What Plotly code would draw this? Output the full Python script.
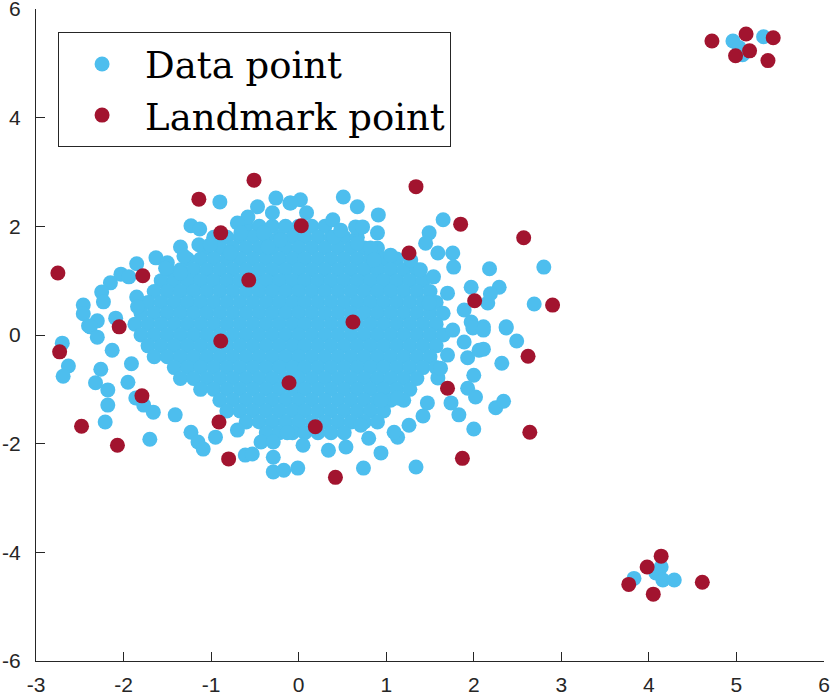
import plotly.graph_objects as go

# dense middle of the data cloud, one list of x positions per row
core_y = [2.0, 1.8, 1.6, 1.4, 1.2, 1.0, 0.8, 0.6, 0.4, 0.2,
          0.0, -0.2, -0.4, -0.6, -0.8, -1.0, -1.2, -1.4, -1.6, -1.8]
core_x = [
    [-0.6, -0.45, -0.3, -0.15, 0.0, 0.15, 0.3],
    [-0.97, -0.82, -0.67, -0.52, -0.37, -0.22, -0.07, 0.07, 0.22, 0.37, 0.52, 0.67],
    [-1.05, -0.9, -0.75, -0.6, -0.45, -0.3, -0.15, 0.0, 0.15, 0.3, 0.45, 0.6, 0.75, 0.9],
    [-1.27, -1.12, -0.97, -0.82, -0.67, -0.52, -0.37, -0.22, -0.07, 0.07, 0.22, 0.37,
     0.52, 0.67, 0.82, 0.97, 1.12],
    [-1.5, -1.35, -1.2, -1.05, -0.9, -0.75, -0.6, -0.45, -0.3, -0.15, 0.0, 0.15, 0.3,
     0.45, 0.6, 0.75, 0.9, 1.05, 1.2, 1.35],
    [-1.57, -1.42, -1.27, -1.12, -0.97, -0.82, -0.67, -0.52, -0.37, -0.22, -0.07, 0.07,
     0.22, 0.37, 0.52, 0.67, 0.82, 0.97, 1.12, 1.27, 1.42],
    [-1.65, -1.5, -1.35, -1.2, -1.05, -0.9, -0.75, -0.6, -0.45, -0.3, -0.15, 0.0, 0.15,
     0.3, 0.45, 0.6, 0.75, 0.9, 1.05, 1.2, 1.35, 1.5],
    [-1.72, -1.57, -1.42, -1.27, -1.12, -0.97, -0.82, -0.67, -0.52, -0.37, -0.22, -0.07,
     0.07, 0.22, 0.37, 0.52, 0.67, 0.82, 0.97, 1.12, 1.27, 1.42, 1.57],
    [-1.8, -1.65, -1.5, -1.35, -1.2, -1.05, -0.9, -0.75, -0.6, -0.45, -0.3, -0.15, 0.0,
     0.15, 0.3, 0.45, 0.6, 0.75, 0.9, 1.05, 1.2, 1.35, 1.5, 1.65],
    [-1.87, -1.72, -1.57, -1.42, -1.27, -1.12, -0.97, -0.82, -0.67, -0.52, -0.37, -0.22,
     -0.07, 0.07, 0.22, 0.37, 0.52, 0.67, 0.82, 0.97, 1.12, 1.27, 1.42, 1.57],
    [-1.8, -1.65, -1.5, -1.35, -1.2, -1.05, -0.9, -0.75, -0.6, -0.45, -0.3, -0.15, 0.0,
     0.15, 0.3, 0.45, 0.6, 0.75, 0.9, 1.05, 1.2, 1.35, 1.5, 1.65],
    [-1.72, -1.57, -1.42, -1.27, -1.12, -0.97, -0.82, -0.67, -0.52, -0.37, -0.22, -0.07,
     0.07, 0.22, 0.37, 0.52, 0.67, 0.82, 0.97, 1.12, 1.27, 1.42, 1.57],
    [-1.65, -1.5, -1.35, -1.2, -1.05, -0.9, -0.75, -0.6, -0.45, -0.3, -0.15, 0.0, 0.15,
     0.3, 0.45, 0.6, 0.75, 0.9, 1.05, 1.2, 1.35, 1.5],
    [-1.42, -1.27, -1.12, -0.97, -0.82, -0.67, -0.52, -0.37, -0.22, -0.07, 0.07, 0.22,
     0.37, 0.52, 0.67, 0.82, 0.97, 1.12, 1.27, 1.42, 1.57],
    [-1.35, -1.2, -1.05, -0.9, -0.75, -0.6, -0.45, -0.3, -0.15, 0.0, 0.15, 0.3, 0.45,
     0.6, 0.75, 0.9, 1.05, 1.2, 1.35],
    [-1.12, -0.97, -0.82, -0.67, -0.52, -0.37, -0.22, -0.07, 0.07, 0.22, 0.37, 0.52,
     0.67, 0.82, 0.97, 1.12, 1.27],
    [-0.9, -0.75, -0.6, -0.45, -0.3, -0.15, 0.0, 0.15, 0.3, 0.45, 0.6, 0.75, 0.9, 1.05, 1.2],
    [-0.82, -0.67, -0.52, -0.37, -0.22, -0.07, 0.07, 0.22, 0.37, 0.52, 0.67, 0.82, 0.97],
    [-0.6, -0.45, -0.3, -0.15, 0.0, 0.15, 0.3, 0.45, 0.6, 0.75],
    [-0.37, -0.22, -0.07, 0.07, 0.22, 0.37, 0.52],
]

# scattered data points around the edge of the cloud and the two far clusters
edge_x = [-0.90, -0.26, -0.10, -0.30, -0.47, -0.58, -0.70, -1.23, -1.13, -1.35,
          -1.31, -1.63, -1.50, -1.52, -1.85, -2.03, -1.94, -2.15, -2.25, -2.23,
          -2.46, -2.46, -2.30, -2.40, -2.09, -1.85, -1.84, -1.35, -1.14, -1.01,
          -0.40, -0.21, -0.66, -0.78, -0.35,
          -2.70, -2.63, -2.69, -2.26, -2.32, -2.18, -2.18, -2.21, -1.70, -1.86,
          -1.66, -1.77, -1.95, -1.91, -2.13, -1.41, -1.23, -1.15, -1.09, -0.95,
          -0.61, -0.53, -0.29, -0.29, -0.17, -0.01, -0.43, -0.29, -0.13, -0.70,
          -2.38, -2.30,
          0.02, 0.09, 0.51, 0.67, 0.91, 0.39, 0.65, 0.73, 0.90, 0.67,
          0.82, 1.65, 1.49, 1.45, 1.59, 1.76, 1.77, 2.18, 2.80, 1.97,
          2.29, 2.19, 2.69, 2.16, 1.49, 1.70, 2.11, 2.37, 1.97, 1.89,
          1.54, 1.39, 1.28, 1.05, 0.86, 0.40, 0.48, -0.09,
          1.76, 1.89, 1.99, 2.11, 2.37, 2.49, 2.06, 2.11, 1.93, 2.00,
          2.32, 1.93, 2.02, 1.74, 1.83, 2.25, 2.34, 2.00, 1.34, 0.94,
          0.74, 0.54, 0.05, 0.34, 0.80, 1.13, 1.26, 1.42, 1.47, 1.59,
          1.62, 1.70, 1.13, 0.94, 0.71, 0.90, 1.09,
          4.96, 5.07, 5.31, 5.03,
          3.83, 4.14, 4.08, 4.16, 4.29]
edge_y = [2.45, 2.52, 2.43, 2.25, 2.36, 2.17, 2.06, 2.01, 1.95, 1.62,
          1.45, 1.42, 1.33, 1.23, 1.31, 1.12, 1.07, 0.96, 0.79, 0.61,
          0.55, 0.39, 0.26, 0.17, 0.31, 0.70, 0.52, 1.14, 1.66, 1.66,
          1.88, 1.75, 1.88, 1.51, 1.62,
          -0.15, -0.57, -0.76, -0.63, -0.88, -1.01, -1.29, -1.60, -1.92, -1.16,
          -1.42, -1.29, -0.87, -0.53, -0.28, -1.47, -1.79, -1.97, -2.10, -1.88,
          -2.21, -2.19, -2.25, -2.52, -2.49, -2.45, -1.97, -1.97, -1.80, -1.75,
          0.15, -0.04,
          2.49, 2.25, 2.54, 2.36, 2.21, 2.12, 1.99, 1.99, 1.88, 1.69,
          1.60, 2.12, 1.88, 1.69, 1.51, 1.51, 1.25, 1.22, 1.25, 0.88,
          0.88, 0.76, 0.57, 0.59, 0.59, 0.77, 0.15, 0.15, 0.24, 0.46,
          1.07, 1.20, 1.38, 1.47, 1.38, 1.80, 1.93, 2.43,
          0.09, -0.13, 0.13, 0.09, 0.13, -0.11, -0.28, -0.26, -0.42, -0.74,
          -0.52, -0.98, -1.14, -1.25, -1.47, -1.34, -1.22, -1.73, -2.43, -2.17,
          -2.45, -2.06, -2.03, -2.12, -1.90, -1.88, -1.66, -1.49, -1.25, -0.79,
          -0.61, -0.37, -1.16, -1.20, -1.66, -1.60, -1.79,
          5.41, 5.16, 5.49, 5.29,
          -4.48, -4.27, -4.38, -4.51, -4.51]

landmark_x = [-2.75, -2.73, -2.48, -2.07, -2.05, -1.78, -1.79, -1.14, -0.89, -0.89,
              -0.91, -0.80, -0.57, -0.51, -0.11, 0.03, 0.19, 0.42, 0.62, 1.34,
              1.26, 1.70, 1.85, 2.01, 1.87, 2.57, 2.62, 2.64, 2.90,
              4.72, 5.11, 4.99, 5.15, 5.36, 5.42,
              3.77, 3.98, 4.14, 4.05, 4.61]
landmark_y = [1.14, -0.31, -1.68, -2.03, 0.15, 1.09, -1.12, 2.50, 1.88, -0.11,
              -1.60, -2.28, 1.01, 2.85, -0.88, 2.01, -1.69, -2.62, 0.24, 2.73,
              1.51, -0.98, 2.04, 0.63, -2.27, 1.79, -0.39, -1.79, 0.55,
              5.41, 5.54, 5.14, 5.23, 5.05, 5.47,
              -4.59, -4.27, -4.07, -4.77, -4.55]

x_ticks = [-3, -2, -1, 0, 1, 2, 3, 4, 5, 6]
x_labels = ["-3", "-2", "-1", "0", "1", "2", "3", "4", "5", "6"]
y_ticks = [-6, -4, -2, 0, 2, 4, 6]
y_labels = ["-6", "-4", "-2", "0", "2", "4", "6"]

data_x = []
data_y = []
for yv, row in zip(core_y, core_x):
    data_x += row
    data_y += [yv] * len(row)
data_x += edge_x
data_y += edge_y

fig = go.Figure()
fig.add_trace(go.Scatter(
    x=data_x, y=data_y, mode="markers", name="Data point",
    marker=dict(color="#4DBEEE", size=15, line=dict(width=0)),
))
fig.add_trace(go.Scatter(
    x=landmark_x, y=landmark_y, mode="markers", name="Landmark point",
    marker=dict(color="#A2142F", size=15, line=dict(width=0)),
))

axis_style = dict(
    showgrid=False, zeroline=False, showline=True, linecolor="#262626",
    linewidth=1, ticks="inside", ticklen=9, tickcolor="#262626",
    tickfont=dict(family="Liberation Sans", size=21, color="#262626"),
    automargin=False, ticklabeloverflow="allow",
)
fig.update_xaxes(range=[-3, 6], tickvals=x_ticks, ticktext=x_labels,
                 ticklabelstandoff=5, **axis_style)
fig.update_yaxes(range=[-6, 6], tickvals=y_ticks, ticktext=y_labels,
                 ticklabelstandoff=10, **axis_style)

fig.update_layout(
    width=830, height=697,
    margin=dict(l=36, r=6, t=9, b=36),
    plot_bgcolor="white", paper_bgcolor="white",
    showlegend=True,
    legend=dict(
        x=0.028, y=0.964, xanchor="left", yanchor="top",
        bgcolor="white", bordercolor="#262626", borderwidth=1,
        font=dict(family="DejaVu Serif", size=37, color="black"),
        itemwidth=76,
    ),
)

# drop the default 8px page margin so the figure sits at the window corner
fig.write_html("out.html", config={"displayModeBar": False},
               post_script="document.body.style.margin = '0';")
